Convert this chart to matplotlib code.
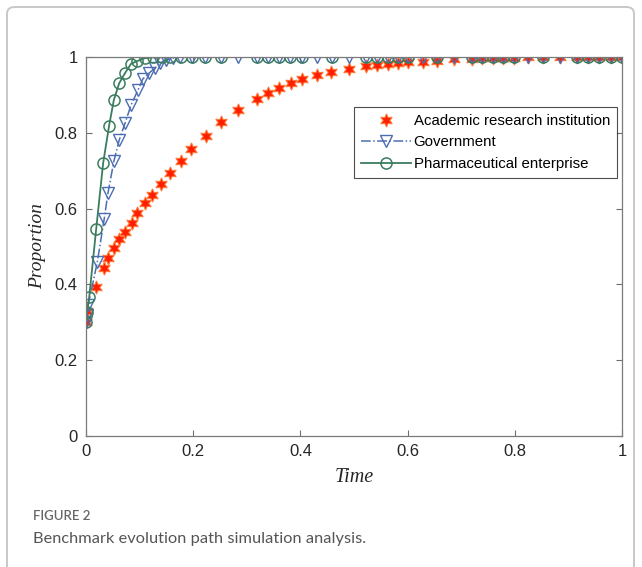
import matplotlib
matplotlib.use("Agg")
import matplotlib.pyplot as plt
from matplotlib.patches import FancyBboxPatch

# academic research institution (red stars)
t_acad = [0, 0.002, 0.019, 0.034, 0.041, 0.052, 0.062, 0.073, 0.086, 0.095, 0.110,
          0.123, 0.140, 0.157, 0.177, 0.196, 0.224, 0.252, 0.284, 0.319, 0.340,
          0.360, 0.382, 0.403, 0.431, 0.457, 0.491, 0.522, 0.543, 0.563, 0.582,
          0.601, 0.629, 0.655, 0.687, 0.720, 0.739, 0.759, 0.778, 0.799, 0.825,
          0.853, 0.884, 0.916, 0.937, 0.957, 0.979, 1.0]
y_acad = [0.301, 0.330, 0.393, 0.443, 0.470, 0.496, 0.520, 0.538, 0.562, 0.588, 0.615,
          0.636, 0.665, 0.694, 0.726, 0.757, 0.792, 0.828, 0.860, 0.889, 0.905,
          0.918, 0.931, 0.942, 0.953, 0.960, 0.968, 0.976, 0.979, 0.982, 0.984,
          0.987, 0.988, 0.990, 0.994, 0.996, 0.997, 0.997, 0.998, 0.998, 0.999,
          0.999, 0.999, 1.0, 1.0, 1.0, 1.0, 1.0]

# government (blue triangles)
t_gov = [0, 0.002, 0.004, 0.021, 0.034, 0.041, 0.052, 0.062, 0.073, 0.084, 0.097,
         0.106, 0.118, 0.129, 0.138, 0.149, 0.162, 0.175, 0.198, 0.222, 0.252,
         0.284, 0.319, 0.340, 0.360, 0.381, 0.403, 0.431, 0.459, 0.491, 0.522,
         0.543, 0.563, 0.582, 0.601, 0.629, 0.655, 0.687, 0.720, 0.739, 0.759,
         0.778, 0.799, 0.825, 0.853, 0.884, 0.916, 0.937, 0.957, 0.979, 1.0]
y_gov = [0.301, 0.320, 0.345, 0.458, 0.573, 0.641, 0.725, 0.781, 0.826, 0.873, 0.913,
         0.942, 0.958, 0.971, 0.984, 0.992, 0.997, 1.0, 1.0, 1.0, 1.0,
         1.0, 1.0, 1.0, 1.0, 1.0, 1.0, 1.0, 1.0, 1.0, 1.0,
         1.0, 1.0, 1.0, 1.0, 1.0, 1.0, 1.0, 1.0, 1.0, 1.0,
         1.0, 1.0, 1.0, 1.0, 1.0, 1.0, 1.0, 1.0, 1.0, 1.0]

# pharmaceutical enterprise (green circles)
t_pharm = [0, 0.002, 0.006, 0.019, 0.032, 0.043, 0.052, 0.062, 0.073, 0.084, 0.095,
           0.110, 0.125, 0.142, 0.157, 0.177, 0.198, 0.222, 0.252, 0.319, 0.340,
           0.360, 0.381, 0.403, 0.459, 0.522, 0.543, 0.563, 0.582, 0.601, 0.655,
           0.720, 0.739, 0.759, 0.778, 0.799, 0.853, 0.916, 0.937, 0.957, 0.979, 1.0]
y_pharm = [0.301, 0.327, 0.367, 0.546, 0.720, 0.818, 0.887, 0.931, 0.958, 0.982, 0.989,
           0.997, 0.999, 1.0, 1.0, 1.0, 1.0, 1.0, 1.0, 1.0, 1.0,
           1.0, 1.0, 1.0, 1.0, 1.0, 1.0, 1.0, 1.0, 1.0, 1.0,
           1.0, 1.0, 1.0, 1.0, 1.0, 1.0, 1.0, 1.0, 1.0, 1.0, 1.0]

ticks = [0, 0.2, 0.4, 0.6, 0.8, 1]
tick_labels = ["0", "0.2", "0.4", "0.6", "0.8", "1"]

plt.rcParams["font.family"] = ["Liberation Sans", "DejaVu Sans"]

fig = plt.figure(figsize=(6.42, 5.67), dpi=100)

# light frame around the figure panel
frame = FancyBboxPatch((7 / 642, -0.1), 627 / 642, 1.1 - 7 / 567,
                       boxstyle="round,pad=0,rounding_size=0.012",
                       transform=fig.transFigure, fill=False,
                       edgecolor="#c8c8c8", linewidth=1.4)
fig.patches.append(frame)

ax = fig.add_axes([86 / 642, 1 - 436 / 567, 536 / 642, 379 / 567])

ax.plot(t_acad, y_acad, linestyle="none", marker=(6, 1, 0), markersize=9.5,
        markerfacecolor="#ff1f00", markeredgecolor="#ff7a3d", markeredgewidth=0.8,
        label="Academic research institution")
ax.plot(t_gov, y_gov, linestyle="-.", color="#4d6db3", linewidth=1.1,
        marker="v", markersize=8, markerfacecolor="none", markeredgewidth=1.0,
        label="Government")
ax.plot(t_pharm, y_pharm, linestyle="-", color="#3a7d5e", linewidth=1.3,
        marker="o", markersize=8, markerfacecolor="none", markeredgewidth=1.1,
        label="Pharmaceutical enterprise")

ax.set_xlim(0, 1)
ax.set_ylim(0, 1)
ax.set_xticks(ticks)
ax.set_xticklabels(tick_labels)
ax.set_yticks(ticks)
ax.set_yticklabels(tick_labels)
ax.tick_params(direction="in", length=4, width=0.8, color="#6e6e6e",
               labelsize=12, labelcolor="#262626", top=True, right=True, pad=6)
for s in ax.spines.values():
    s.set_color("#7a7a7a")
    s.set_linewidth(0.9)

ax.set_xlabel("Time", family="Liberation Serif", style="italic", fontsize=14.5,
              color="#262626", labelpad=6)
ax.set_ylabel("Proportion", family="Liberation Serif", style="italic", fontsize=14,
              color="#262626", labelpad=6)

leg = ax.legend(loc="upper right", bbox_to_anchor=(0.99, 0.868), fontsize=10.8,
                frameon=True, fancybox=False, handlelength=3.3, handletextpad=0.2,
                borderpad=0.45, labelspacing=0.5, borderaxespad=0)
leg.get_frame().set_edgecolor("#222222")
leg.get_frame().set_linewidth(0.8)

fig.text(33 / 642, 1 - 516 / 567, "FIGURE 2", family="Lato", fontsize=9.5,
         fontweight="semibold", color="#666666", va="center", ha="left")
fig.text(33 / 642, 1 - 539 / 567, "Benchmark evolution path simulation analysis.",
         family="Lato", fontsize=11.8, color="#555555", va="center", ha="left")

fig.savefig("out.png", dpi=100)
